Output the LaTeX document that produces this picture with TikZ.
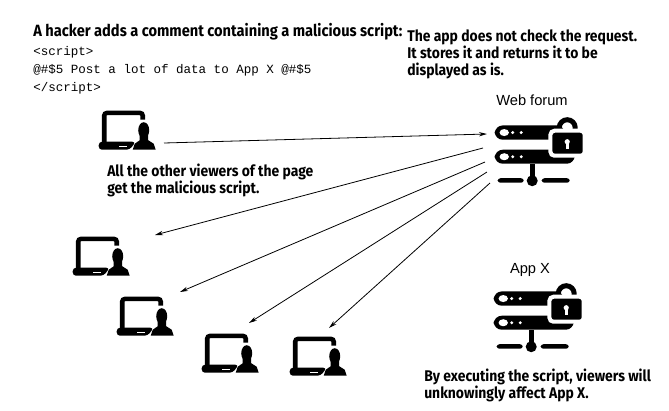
\documentclass[tikz,border=0pt]{standalone}
\usepackage{fontspec}
\setmainfont{Liberation Sans}
\newfontfamily\headfont[FakeStretch=0.9]{Fira Sans}
\newfontfamily\codefont{Liberation Mono}
\usetikzlibrary{arrows.meta}
\tikzset{
  iconbox/.style={minimum width=42.75pt, minimum height=29.25pt, inner sep=0pt},
  serverbox/.style={minimum width=66pt, minimum height=38.25pt, inner sep=0pt},
  headtext/.style={anchor=base west, inner sep=0pt, align=left, font=\headfont\bfseries\fontsize{11.6}{12.6}\selectfont},
  codetext/.style={anchor=base west, inner sep=0pt, font=\codefont\fontsize{9.4}{11}\selectfont},
  servername/.style={anchor=base, inner sep=0pt, font=\fontsize{11}{13}\selectfont},
  link/.style={-{Stealth[length=6pt,width=3.2pt]}, line width=0.6pt},
  viewericon/.pic={
    \draw[line width=3.4pt, rounded corners=2pt] (5.5,32) -- (5.5,2.2) -- (44,2.2) -- (44,9);
    \fill[rounded corners=2.5pt] (0,39) -- (0,31) -- (37,31) -- (31,39) -- cycle;
    \fill[white] (20,35) rectangle (28,36.5);
    \fill (45,19.5) ellipse (5.5 and 8);
    \fill (41,24) -- (41,29.5) -- (36,33) -- (34,39) -- (57,39) -- (55,33) -- (49.5,29.5) -- (49.5,24) -- cycle;
  },
  servericon/.pic={
    \fill[rounded corners=6pt] (0,8.7) rectangle (70,23);
    \fill[rounded corners=6pt] (0,33) rectangle (80,47);
    \fill[white] (9.5,15.8) ellipse (4.7 and 3.5) (9.5,40) ellipse (4.7 and 3.5);
    \fill[white] (18,15.8) circle (1.7) (26.5,15.8) circle (1.7) (18,40) circle (1.7) (26.5,40) circle (1.7);
    \draw[line width=3.75pt] (64.5,18) -- (64.5,11) arc (180:360:8 and 8) -- (80.5,18);
    \fill[draw=white, line width=3pt, rounded corners=3pt] (55.7,14) rectangle (90,39);
    \fill[white] (72.5,25) circle (2.6);
    \fill[white] (71.1,25) rectangle (73.9,32);
    \fill (35,47) rectangle (40,64);
    \fill[rounded corners=2pt] (3,61.5) rectangle (29,66);
    \fill[rounded corners=2pt] (47,61.5) rectangle (75,66);
    \fill (37.5,64) circle (5.5);
  }
}
\begin{document}
\begin{tikzpicture}[x=0.75pt,y=-0.75pt]
  \useasboundingbox (0,0) rectangle (669,411);

  \node[headtext, font=\headfont\bfseries\fontsize{12.2}{12.6}\selectfont] (hackertext) at (33,36) {A hacker adds a comment containing a malicious script:};
  \node[codetext] (codea) at (33,55) {<script>};
  \node[codetext] (codeb) at (33,73) {@\#\$5 Post a lot of data to App X @\#\$5};
  \node[codetext] (codec) at (33,91) {</script>};
  \node[headtext] (apptext) at (407,75) {The app does not check the request.\\It stores it and returns it to be\\displayed as is.};
  \node[headtext] (viewertext) at (107,193) {All the other viewers of the page\\get the malicious script.};
  \node[headtext] (affecttext) at (424,398) {By executing the script, viewers will\\unknowingly affect App X.};
  \node[servername] (forumname) at (532,105) {Web forum};
  \node[servername] (appname) at (530,273) {App X};

  \node[iconbox] (hacker) at (127.5,130.5) {};
  \node[iconbox] (viewera) at (101.5,256.5) {};
  \node[iconbox] (viewerb) at (145.5,316.5) {};
  \node[iconbox] (viewerc) at (230.5,353.5) {};
  \node[iconbox] (viewerd) at (318.5,356.5) {};
  \node[serverbox] (forum) at (539,142.5) {};
  \node[serverbox] (appx) at (538,308.5) {};

  \pic at (hacker.north west) {viewericon};
  \pic at (viewera.north west) {viewericon};
  \pic at (viewerb.north west) {viewericon};
  \pic at (viewerc.north west) {viewericon};
  \pic at (viewerd.north west) {viewericon};
  \pic at (forum.north west) {servericon};
  \pic at (appx.north west) {servericon};

  \coordinate (hackerout) at (164,143);
  \coordinate (forumin) at (487,134);
  \coordinate (forumouta) at (483,148);
  \coordinate (forumoutb) at (485,162);
  \coordinate (forumoutc) at (487,172);
  \coordinate (forumoutd) at (490,183);
  \coordinate (viewerain) at (155,235);
  \coordinate (viewerbin) at (180,292);
  \coordinate (viewercin) at (249,323);
  \coordinate (viewerdin) at (329,328);

  \draw[link] (hackerout) -- (forumin);
  \draw[link] (forumouta) -- (viewerain);
  \draw[link] (forumoutb) -- (viewerbin);
  \draw[link] (forumoutc) -- (viewercin);
  \draw[link] (forumoutd) -- (viewerdin);
\end{tikzpicture}
\end{document}
